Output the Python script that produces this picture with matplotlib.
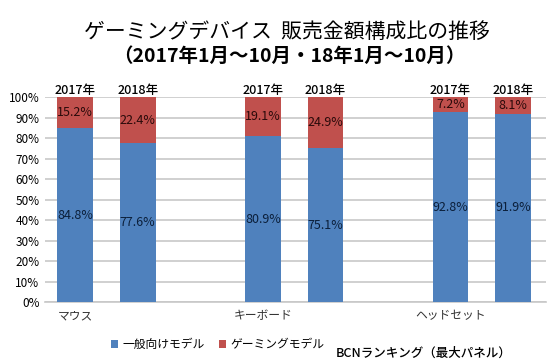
import numpy as np
import matplotlib.pyplot as plt
from matplotlib.ticker import PercentFormatter

plt.rcParams['font.family'] = ['Noto Sans CJK JP', 'DejaVu Sans']

categories = ['マウス', 'キーボード', 'ヘッドセット']
years = ['2017年', '2018年']
general = [84.8, 77.6, 80.9, 75.1, 92.8, 91.9]
gaming = [15.2, 22.4, 19.1, 24.9, 7.2, 8.1]
positions = [0, 1, 3, 4, 6, 7]

blue = '#4F81BD'
red = '#C0504D'

fig = plt.figure(figsize=(5.5, 3.64), dpi=100)
ax = fig.add_axes([0.082, 0.17, 0.91, 0.563])

w = 0.57
ax.bar(positions, general, w, color=blue, label='一般向けモデル', zorder=3)
ax.bar(positions, gaming, w, bottom=general, color=red, label='ゲーミングモデル', zorder=3)

for i, x in enumerate(positions):
    ax.text(x, general[i] / 2, f'{general[i]:.1f}%', ha='center', va='center',
            fontsize=9, color='#0b1f3a', zorder=4)
    ax.text(x, general[i] + gaming[i] / 2, f'{gaming[i]:.1f}%', ha='center', va='center',
            fontsize=9, color='#2a0a0a', zorder=4)
    ax.text(x, 100.3, years[i % 2], ha='center', va='bottom', fontsize=9,
            fontweight='medium', zorder=4)

ax.set_xlim(-0.48, 7.52)
ax.set_ylim(0, 100)
ax.set_yticks(np.arange(0, 101, 10))
ax.yaxis.set_major_formatter(PercentFormatter(decimals=0))
ax.tick_params(axis='y', length=0, labelsize=8.5, pad=4)
ax.set_xticks([])
ax.grid(axis='y', color='#c8c8c8', linewidth=1.2, zorder=0)
for s in ['top', 'right', 'left']:
    ax.spines[s].set_visible(False)
ax.spines['bottom'].set_color('#c8c8c8')
ax.spines['bottom'].set_linewidth(1.2)

for c, x in zip(categories, [0, 3, 6]):
    ax.text(x, -6.5, c, ha='center', va='center', fontsize=8.5, color='#333333')

ax.legend(loc='upper center', bbox_to_anchor=(0.345, -0.125), ncol=2, frameon=False,
          fontsize=8.5, handlelength=0.6, handleheight=0.6, columnspacing=1.2,
          handletextpad=0.4)

fig.text(0.522, 0.912, 'ゲーミングデバイス  販売金額構成比の推移', ha='center', va='center',
         fontsize=15)
fig.text(0.526, 0.845, '（2017年1月～10月・18年1月～10月）', ha='center', va='center',
         fontsize=14, fontweight='bold')
fig.text(0.93, 0.03, 'BCNランキング（最大パネル）', ha='right', va='center',
         fontsize=9, fontweight='medium')

fig.savefig('out.png', dpi=100, facecolor='white')
